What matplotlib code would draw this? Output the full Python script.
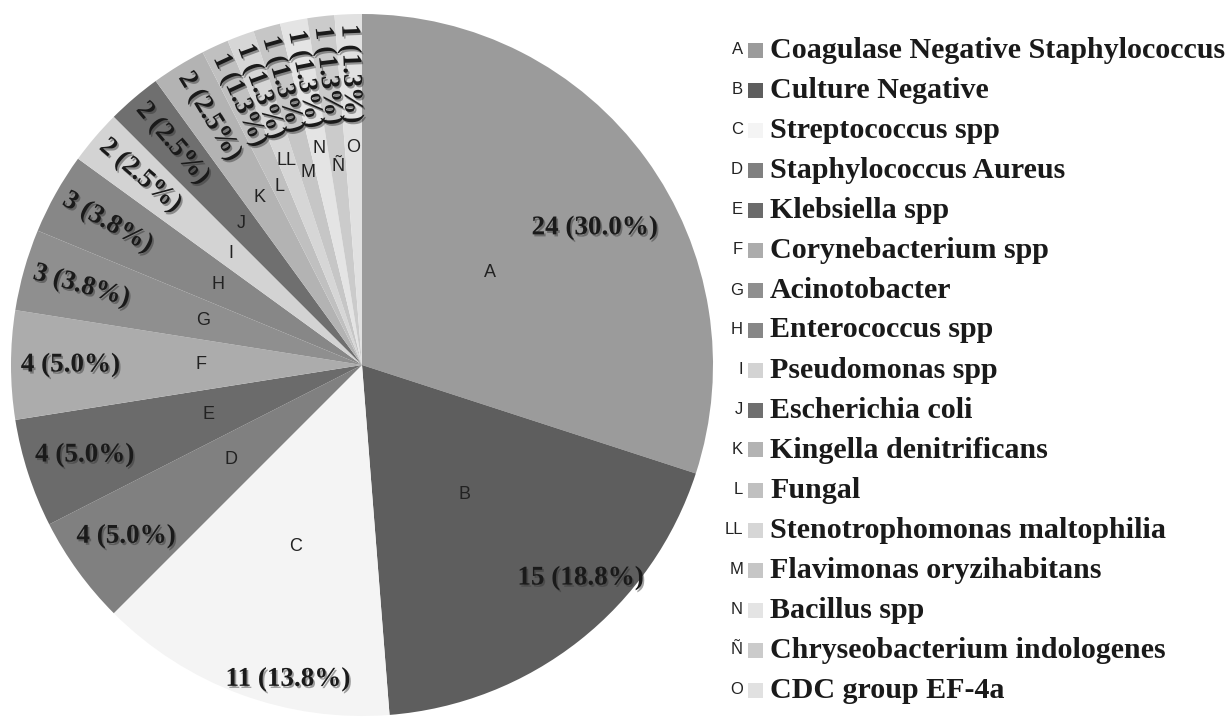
import math
import matplotlib
matplotlib.use("Agg")
import matplotlib.pyplot as plt
import matplotlib.patheffects as pe
import numpy as np

letters = ["A", "B", "C", "D", "E", "F", "G", "H", "I", "J", "K", "L", "LL", "M", "N", "Ñ", "O"]
names = ["Coagulase Negative Staphylococcus", "Culture Negative", "Streptococcus spp",
         "Staphylococcus Aureus", "Klebsiella spp", "Corynebacterium spp", "Acinotobacter",
         "Enterococcus spp", "Pseudomonas spp", "Escherichia coli", "Kingella denitrificans",
         "Fungal", "Stenotrophomonas maltophilia", "Flavimonas oryzihabitans", "Bacillus spp",
         "Chryseobacterium indologenes", "CDC group EF-4a"]
counts = [24, 15, 11, 4, 4, 4, 3, 3, 2, 2, 2, 1, 1, 1, 1, 1, 1]
colors = ["#9b9b9b", "#5e5e5e", "#f4f4f4", "#808080", "#6b6b6b", "#acacac", "#8f8f8f",
          "#878787", "#d3d3d3", "#6f6f6f", "#b3b3b3", "#c0c0c0", "#d6d6d6", "#c6c6c6",
          "#e4e4e4", "#cbcbcb", "#e1e1e1"]

# layout tweaks (label radii as fraction of pie radius, angle nudges in degrees)
value_r = [0.77, 0.87, 0.92] + [0.83] * 14
value_da = [-5.5, 7.5, 7.0] + [0] * 14
letter_r = [0.45, 0.47, 0.55, 0.46, 0.46, 0.46, 0.47, 0.47, 0.49, 0.53, 0.56,
            0.56, 0.62, 0.57, 0.63, 0.57, 0.62]

serif = "Liberation Serif"
sans = "Liberation Sans"

fig = plt.figure(figsize=(12.28, 7.19), dpi=100)
cx, cy, R = 362, 365, 351   # pie centre/radius in pixels, y from top
W, H = 1228, 719
ax = fig.add_axes([(cx - R) / W, (H - cy - R) / H, 2 * R / W, 2 * R / H])
wedges, _ = ax.pie(counts, colors=colors, startangle=90, counterclock=False,
                   wedgeprops=dict(linewidth=0))
ax.set_xlim(-1, 1)
ax.set_ylim(-1, 1)
ax.set_aspect("equal")
ax.axis("off")

total = sum(counts)
shadow = [pe.withSimplePatchShadow(offset=(1.2, -1.5), shadow_rgbFace="0.2", alpha=0.45)]
for i, w in enumerate(wedges):
    mid = (w.theta1 + w.theta2) / 2
    a = np.deg2rad(mid + value_da[i])
    pct = math.floor(counts[i] / total * 1000 + 0.5) / 10
    txt = f"{counts[i]} ({pct:.1f}%)"
    rot = 0
    if i >= 6:
        rot = mid - 180 if np.cos(a) < 0 else mid
    ax.text(value_r[i] * np.cos(a), value_r[i] * np.sin(a), txt, ha="center", va="center",
            rotation=rot, rotation_mode="anchor", family=serif, weight="bold",
            fontsize=19.5, color="#1a1a1a", path_effects=shadow)
    b = np.deg2rad(mid)
    ax.text(letter_r[i] * np.cos(b), letter_r[i] * np.sin(b), letters[i], ha="center",
            va="center", family=sans, fontsize=13, color="#222222")

# legend
for i in range(len(letters)):
    y = 1 - (50 + 40 * i) / H
    fig.text(743 / W, y, letters[i], ha="right", va="center", family=sans,
             fontsize=12, color="#222222")
    fig.patches.append(plt.Rectangle((748 / W, y - 7.5 / H), 15 / W, 15 / H,
                                     transform=fig.transFigure, facecolor=colors[i],
                                     edgecolor="none"))
    fig.text(770 / W, y, names[i], ha="left", va="center", family=serif,
             weight="bold", fontsize=21.6, color="#1a1a1a")

fig.savefig("out.png", dpi=100)
